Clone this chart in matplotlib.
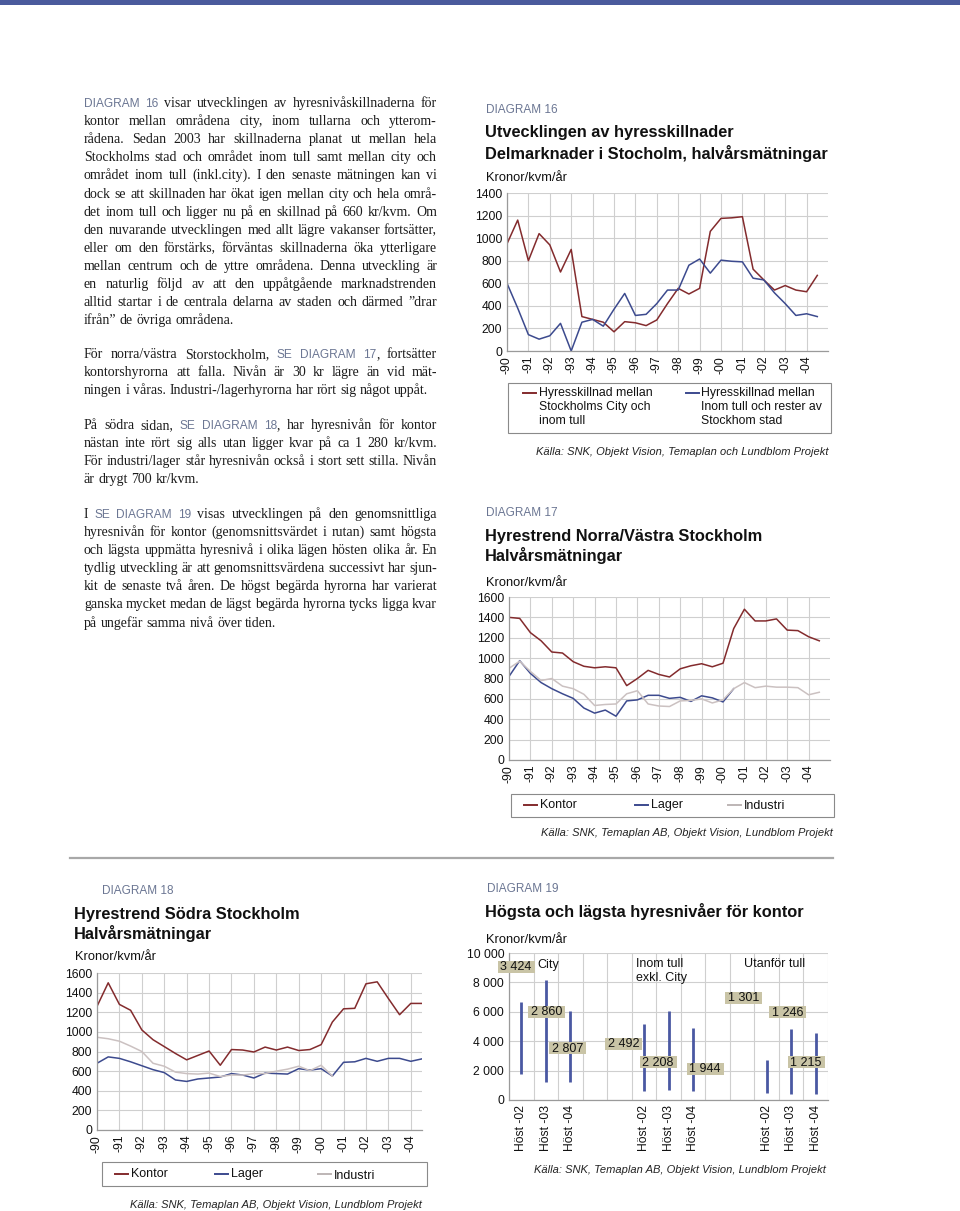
import matplotlib
matplotlib.use('Agg')
import matplotlib.pyplot as plt
from matplotlib.transforms import Affine2D
from matplotlib.patches import Rectangle
from matplotlib.lines import Line2D
import numpy as np

plt.rcParams['font.family'] = ['Liberation Sans', 'DejaVu Sans']

# ---------------- data ----------------
YEARS = ['-90', '-91', '-92', '-93', '-94', '-95', '-96', '-97', '-98', '-99',
         '-00', '-01', '-02', '-03', '-04']

# diagram 16, half-year values 1990 .. 2004.5
d16_city_inom = [950, 1160, 800, 1040, 940, 700, 900, 305, 280, 255,
                 170, 260, 250, 225, 275, 420, 555, 505, 555, 1060,
                 1175, 1180, 1190, 725, 630, 540, 580, 540, 525, 670]
d16_inom_rest = [600, 380, 145, 105, 135, 245, 0, 255, 280, 220,
                 370, 510, 315, 325, 420, 540, 540, 760, 815, 690,
                 805, 795, 790, 645, 630, 515, 420, 315, 330, 305]

# diagram 17
d17_kontor = [1400, 1390, 1250, 1170, 1060, 1050, 965, 920, 905, 915,
              905, 730, 800, 880, 840, 815, 895, 925, 945, 915,
              950, 1290, 1480, 1365, 1365, 1385, 1275, 1270, 1210, 1170]
d17_lager = [820, 975, 850, 760, 700, 650, 605, 510, 460, 490,
             430, 580, 590, 635, 635, 605, 615, 575, 630, 610,
             570, 700]
d17_industri = [900, 970, 870, 780, 800, 725, 700, 645, 535, 545,
                550, 650, 680, 550, 530, 525, 580, 585, 600, 560,
                590, 700, 760, 710, 725, 715, 715, 710, 640, 665]

# diagram 18
d18_kontor = [1260, 1500, 1280, 1220, 1020, 920, 850, 780, 715, 760,
              805, 660, 820, 815, 795, 845, 815, 845, 810, 820,
              870, 1100, 1235, 1240, 1490, 1510, 1340, 1175, 1290, 1290]
d18_lager = [680, 745, 730, 695, 655, 615, 585, 510, 495, 520,
             530, 540, 575, 560, 530, 580, 575, 570, 625, 610,
             625, 550, 690, 695, 730, 700, 730, 730, 700, 725]
d18_industri = [945, 930, 905, 855, 800, 680, 650, 590, 575, 570,
                580, 545, 560, 560, 575, 575, 600, 620, 650, 605,
                660, 550]

# diagram 19
d19_groups = ['City', 'Inom tull\nexkl. City', 'Utanför tull']
d19_labels = ['Höst -02', 'Höst -03', 'Höst -04'] * 3
d19_high = [6700, 8150, 6050, 5150, 6050, 4900, 2700, 4850, 4550]
d19_low = [1750, 1200, 1200, 600, 700, 600, 500, 400, 400]
d19_avg = [3424, 2860, 2807, 2492, 2208, 1944, 1301, 1246, 1215]
d19_slot = [0, 1, 2, 5, 6, 7, 10, 11, 12]

# ---------------- style ----------------
RED = '#832b2d'
BLUE = '#3c4a8e'
GREY = '#cbc1c1'
GRID = '#cfcfcf'
KHAKI = '#c9c4a6'
HEAD = '#6b7693'
INK = '#1b1b1b'
TITLE_SIZE = 11.8
UNIT_SIZE = 9.3
SRC_SIZE = 8.0

W, H = 960, 1211
fig = plt.figure(figsize=(W / 100, H / 100), dpi=100)
pix = Affine2D().scale(1 / W, -1 / H).translate(0, 1) + fig.transFigure
renderer = fig.canvas.get_renderer()


def px_axes(x0, y0, x1, y1):
    return fig.add_axes([x0 / W, 1 - y1 / H, (x1 - x0) / W, (y1 - y0) / H])


def ftext(x, y, s, **kw):
    kw.setdefault('va', 'center')
    return fig.text(x, y, s, transform=pix, **kw)


def fline(x0, x1, y, color, lw=1.3):
    fig.add_artist(Line2D([x0, x1], [y, y], transform=pix, color=color, lw=lw))


def frect(x0, y0, x1, y1, **kw):
    fig.add_artist(Rectangle((x0, y0), x1 - x0, y1 - y0, transform=pix, **kw))


# top stripe and separator
frect(0, 0, W, 5, fc='#4a5a9c', ec='none')
fline(70, 833, 858, '#a8a8a8', lw=1.6)

# ---------------- left column text ----------------
STY = {
    'serif': dict(family='Liberation Serif', size=10.0, color=INK),
    'sans': dict(size=8.6, color=HEAD),
}


def width_of(s, style):
    t = fig.text(0, 0, s, **STY[style])
    w = t.get_window_extent(renderer).width
    t.remove()
    return w


SPACE_W = width_of('a a', 'serif') - width_of('aa', 'serif')


def parse(line):
    frags, buf, style = [], '', 'serif'
    for ch in line:
        if ch in '{}':
            if buf:
                frags.append((buf, style))
            buf = ''
            style = 'sans' if ch == '{' else 'serif'
        else:
            buf += ch
    if buf:
        frags.append((buf, style))
    words = [[]]
    for txt, st in frags:
        parts = txt.split(' ')
        for j, p in enumerate(parts):
            if j > 0:
                words.append([])
            if p:
                words[-1].append((p, st))
    return [w for w in words if w]


def paragraph(x, y0, lines, right=437, step=18.1):
    for k, line in enumerate(lines):
        y = round(y0 + k * step + 4)
        words = parse(line)
        widths = [[width_of(p, st) for p, st in w] for w in words]
        total = sum(sum(ws) for ws in widths)
        n = len(words) - 1
        gap = SPACE_W
        if n > 0 and (k < len(lines) - 1 or x + total + n * SPACE_W > right):
            gap = (right - x - total) / n
        cx = x
        for w, ws in zip(words, widths):
            for (p, st), wd in zip(w, ws):
                ftext(cx, y, p, va='baseline', **STY[st])
                cx += wd
            cx += gap


paragraph(84, 103, [
    '{DIAGRAM 16} visar utvecklingen av hyresnivåskillnaderna för',
    'kontor mellan områdena city, inom tullarna och ytterom-',
    'rådena. Sedan 2003 har skillnaderna planat ut mellan hela',
    'Stockholms stad och området inom tull samt mellan city och',
    'området inom tull (inkl.city). I den senaste mätningen kan vi',
    'dock se att skillnaden har ökat igen mellan city och hela områ-',
    'det inom tull och ligger nu på en skillnad på 660 kr/kvm. Om',
    'den nuvarande utvecklingen med allt lägre vakanser fortsätter,',
    'eller om den förstärks, förväntas skillnaderna öka ytterligare',
    'mellan centrum och de yttre områdena. Denna utveckling är',
    'en naturlig följd av att den uppåtgående marknadstrenden',
    'alltid startar i de centrala delarna av staden och därmed ”drar',
    'ifrån” de övriga områdena.',
])
paragraph(84, 354, [
    'För norra/västra Storstockholm, {SE DIAGRAM 17}, fortsätter',
    'kontorshyrorna att falla. Nivån är 30 kr lägre än vid mät-',
    'ningen i våras. Industri-/lagerhyrorna har rört sig något uppåt.',
])
paragraph(84, 425, [
    'På södra sidan, {SE DIAGRAM 18}, har hyresnivån för kontor',
    'nästan inte rört sig alls utan ligger kvar på ca 1 280 kr/kvm.',
    'För industri/lager står hyresnivån också i stort sett stilla. Nivån',
    'är drygt 700 kr/kvm.',
])
paragraph(84, 514, [
    'I {SE DIAGRAM 19} visas utvecklingen på den genomsnittliga',
    'hyresnivån för kontor (genomsnittsvärdet i rutan) samt högsta',
    'och lägsta uppmätta hyresnivå i olika lägen hösten olika år. En',
    'tydlig utveckling är att genomsnittsvärdena successivt har sjun-',
    'kit de senaste två åren. De högst begärda hyrorna har varierat',
    'ganska mycket medan de lägst begärda hyrorna tycks ligga kvar',
    'på ungefär samma nivå över tiden.',
])


# ---------------- chart helpers ----------------
def heading(x, y, num, title_lines, title_x, unit_x, unit_y):
    ftext(x, y, 'DIAGRAM %d' % num, size=8.5, color=HEAD)
    for k, t in enumerate(title_lines):
        ftext(title_x, y + 23 + k * 20, t, size=TITLE_SIZE, weight='bold', color='#111')
    ftext(unit_x, unit_y, 'Kronor/kvm/år', size=UNIT_SIZE, color='#111')


def style_axes(ax, ymax, ystep):
    ax.set_ylim(0, ymax)
    ax.set_yticks(np.arange(0, ymax + 1, ystep))
    ax.set_axisbelow(True)
    for s in ['top', 'right']:
        ax.spines[s].set_visible(False)
    for s in ['left', 'bottom']:
        ax.spines[s].set_color('#9a9a9a')
        ax.spines[s].set_linewidth(0.9)
    ax.tick_params(length=0, labelsize=8.7, colors='#111', pad=3.5)


def line_chart(box, series, xmax, ymax):
    ax = px_axes(*box)
    for vals, col in series:
        x = np.arange(len(vals)) / 2
        ax.plot(x, vals, color=col, lw=1.1)
    ax.set_xlim(0, xmax)
    ax.set_xticks(range(len(YEARS)))
    ax.set_xticklabels(YEARS, rotation=90)
    style_axes(ax, ymax, 200)
    ax.grid(True, color=GRID, lw=0.8)
    return ax


def legend_row(box, items, y):
    frect(*box, fc='none', ec='#8a8a8a', lw=0.8)
    for (label, col, x0, dy) in items:
        fline(x0, x0 + 13, y, col, lw=1.4)
        ftext(x0 + 16, y + dy, label, size=9.0, color='#111')


SOURCE1 = 'Källa: SNK, Objekt Vision, Temaplan och Lundblom Projekt'
SOURCE2 = 'Källa: SNK, Temaplan AB, Objekt Vision, Lundblom Projekt'

# ---------------- diagram 16 ----------------
heading(486, 110, 16, ['Utvecklingen av hyresskillnader',
                       'Delmarknader i Stocholm, halvårsmätningar'], 485, 486, 178)
ax16 = line_chart((507, 193, 828, 351),
                  [(d16_city_inom, RED), (d16_inom_rest, BLUE)], 15, 1400)
frect(508, 383, 831, 433, fc='none', ec='#8a8a8a', lw=0.8)
fline(523, 536, 393, RED, lw=1.4)
fline(686, 699, 393, BLUE, lw=1.4)
for k, (a, b) in enumerate(zip(['Hyresskillnad mellan', 'Stockholms City och', 'inom tull'],
                               ['Hyresskillnad mellan', 'Inom tull och rester av',
                                'Stockhom stad'])):
    ftext(539, 393 + k * 14, a, size=8.8, color='#111')
    ftext(701, 393 + k * 14, b, size=8.8, color='#111')
ftext(828, 452, SOURCE1, ha='right', size=SRC_SIZE, style='italic', color='#222')

# ---------------- diagram 17 ----------------
heading(486, 513, 17, ['Hyrestrend Norra/Västra Stockholm', 'Halvårsmätningar'],
        485, 486, 583)
ax17 = line_chart((509, 597, 830, 760),
                  [(d17_kontor, RED), (d17_lager, BLUE), (d17_industri, GREY)], 15, 1600)
legend_row((511, 794, 834, 817),
           [('Kontor', RED, 524, 0), ('Lager', BLUE, 635, 0), ('Industri', '#bdb5b5', 728, 1)],
           805)
ftext(833, 833, SOURCE2, ha='right', size=SRC_SIZE, style='italic', color='#222')

# ---------------- diagram 18 ----------------
heading(102, 891, 18, ['Hyrestrend Södra Stockholm', 'Halvårsmätningar'], 74, 75, 957)
ax18 = line_chart((97, 973, 422, 1130),
                  [(d18_kontor, RED), (d18_lager, BLUE), (d18_industri, GREY)], 14.5, 1600)
legend_row((102, 1162, 427, 1186),
           [('Kontor', RED, 115, 0), ('Lager', BLUE, 215, 0), ('Industri', '#bdb5b5', 318, 2)],
           1174)
ftext(422, 1205, SOURCE2, ha='right', size=SRC_SIZE, style='italic', color='#222')

# ---------------- diagram 19 ----------------
heading(487, 889, 19, ['Högsta och lägsta hyresnivåer för kontor'], 485, 486, 940)
ax19 = px_axes(509, 953, 828, 1100)
ax19.vlines(d19_slot, d19_low, d19_high, color='#4a58a2', lw=2.0)
ax19.set_xlim(-0.5, 12.5)
ax19.set_xticks(d19_slot)
ax19.set_xticklabels(d19_labels, rotation=90)
ax19.set_xticks(np.arange(-0.5, 12.6, 1), minor=True)
style_axes(ax19, 10000, 2000)
ax19.set_yticklabels(['0', '2 000', '4 000', '6 000', '8 000', '10 000'])
ax19.tick_params(which='minor', length=0)
ax19.grid(True, which='minor', axis='x', color=GRID, lw=0.8)
ax19.grid(True, which='major', axis='y', color=GRID, lw=0.8)

# average boxes (positions are layout)
AVG_BOX_PX = [(516, 967), (546.5, 1011.5), (567.5, 1048), (623.5, 1043.5),
              (658, 1062), (705, 1069), (743.5, 997.5), (787.5, 1012), (806, 1062)]
for v, (cx, cy) in zip(d19_avg, AVG_BOX_PX):
    frect(cx - 18.5, cy - 6, cx + 18.5, cy + 6, fc=KHAKI, ec='none')
    ftext(cx, cy + 0.5, '{:,}'.format(v).replace(',', ' '), ha='center', size=9.0, color='#111')

GROUP_PX = [(537, 965), (636, 971), (744, 964)]
for g, (gx, gy) in zip(d19_groups, GROUP_PX):
    ftext(gx, gy, g, size=9.0, color='#111', linespacing=1.15)

ftext(826, 1170, SOURCE2, ha='right', size=SRC_SIZE, style='italic', color='#222')

fig.savefig('out.png', dpi=100)
